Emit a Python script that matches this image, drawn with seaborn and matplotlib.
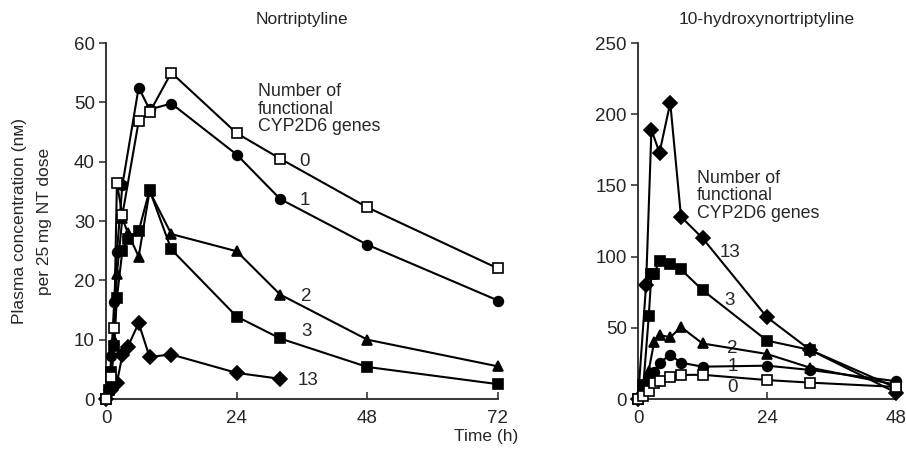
import numpy as np
import pandas as pd
import matplotlib
matplotlib.use("Agg")
import matplotlib.pyplot as plt
import seaborn as sns

# ---------------- data ----------------
# Nortriptyline (left panel), hours / nM
nt_t0 = [0, 1, 1.5, 2, 3, 6, 8, 12, 24, 32, 48, 72]
nt_v0 = [0, 3.7, 12, 36.4, 31, 46.8, 48.3, 55, 44.8, 40.5, 32.3, 22]
nt_t1 = [0, 0.5, 1, 1.5, 2, 3, 6, 8, 12, 24, 32, 48, 72]
nt_v1 = [0, 2, 7.3, 16.3, 24.7, 36, 52.5, 48.8, 49.8, 41.2, 33.7, 26, 16.6]
nt_t2 = [0, 0.5, 1, 1.5, 2, 3, 4, 6, 8, 12, 24, 32, 48, 72]
nt_v2 = [0, 1.5, 4, 10, 21, 30.5, 28, 24, 35, 27.8, 24.9, 17.6, 10, 5.5]
nt_t3 = [0, 0.5, 1, 1.5, 2, 3, 4, 6, 8, 12, 24, 32, 48, 72]
nt_v3 = [0, 1.5, 4.5, 9, 17, 25, 27, 28.3, 35.2, 25.2, 13.9, 10.2, 5.4, 2.5]
nt_t4 = [0, 1, 2, 3, 4, 6, 8, 12, 24, 32]
nt_v4 = [0, 1.5, 2.7, 7.4, 8.8, 12.8, 7.1, 7.5, 4.4, 3.4]

# 10-hydroxynortriptyline (right panel)
oh_t0 = [0, 1, 2, 3, 4, 6, 8, 12, 24, 32, 48]
oh_v0 = [0, 2, 5.5, 11, 12.5, 15.8, 16.9, 17, 13.3, 11.5, 8.5]
oh_t1 = [0, 1, 2, 3, 4, 6, 8, 12, 24, 32, 48]
oh_v1 = [0, 9.5, 14, 19, 25.5, 31, 25.5, 22.7, 23.4, 20.4, 12.5]
oh_t2 = [0, 1, 2, 3, 4, 6, 8, 12, 24, 32, 48]
oh_v2 = [0, 8, 20, 40, 45, 43.3, 50.5, 39, 31.6, 22, 10]
oh_t3 = [0, 1, 2, 2.5, 3, 4, 6, 8, 12, 24, 32, 48]
oh_v3 = [0, 10, 58, 88, 88, 97, 94.5, 91, 76.5, 41, 34.5, 8]
oh_t4 = [0, 1.5, 2.5, 4, 6, 8, 12, 24, 32, 48]
oh_v4 = [0, 80, 189, 173, 208, 128, 113, 57.4, 34.5, 4.5]

gene_labels = ["0", "1", "2", "3", "13"]
nt_xticks = [0, 24, 48, 72]
nt_yticks = [0, 10, 20, 30, 40, 50, 60]
oh_xticks = [0, 24, 48]
oh_yticks = [0, 50, 100, 150, 200, 250]

# label anchor positions (data coords) for gene-count annotations
nt_lab_x = [36.5, 36.5, 36.8, 36.8, 37.1]
nt_lab_y = [40.0, 33.4, 17.2, 11.3, 3.2]
oh_lab_x = [17.5, 17.7, 17.5, 17.1, 17.1]
oh_lab_y = [8.4, 22.5, 35.8, 69.5, 103.2]

# ---------------- style ----------------
sns.set_style("ticks")
plt.rcParams['font.family'] = ['Liberation Sans', 'DejaVu Sans']

markers = ["s", "o", "^", "s", "D"]
facecolors = ["white", "black", "black", "black", "black"]
msizes = [7.2, 7.0, 7.8, 6.8, 6.8]

fig = plt.figure(figsize=(9.06, 4.51), dpi=100)
W, H = 906, 451
ax1 = fig.add_axes([106 / W, 52 / H, 392 / W, 356 / H])
ax2 = fig.add_axes([638 / W, 52 / H, 258 / W, 356 / H])


def draw(ax, ts, vs):
    for i, (t, v) in enumerate(zip(ts, vs)):
        df = pd.DataFrame({"t": t, "v": v})
        sns.lineplot(data=df, x="t", y="v", ax=ax, sort=False, estimator=None,
                     color="black", linewidth=1.5, marker=markers[i],
                     markersize=msizes[i], markerfacecolor=facecolors[i],
                     markeredgecolor="black", markeredgewidth=1.2,
                     clip_on=False, zorder=3 + (4 - i) * 0.1)


draw(ax1, [nt_t0, nt_t1, nt_t2, nt_t3, nt_t4], [nt_v0, nt_v1, nt_v2, nt_v3, nt_v4])
draw(ax2, [oh_t0, oh_t1, oh_t2, oh_t3, oh_t4], [oh_v0, oh_v1, oh_v2, oh_v3, oh_v4])

for ax, xt, yt in [(ax1, nt_xticks, nt_yticks), (ax2, oh_xticks, oh_yticks)]:
    ax.set_xlim(xt[0], xt[-1])
    ax.set_ylim(yt[0], yt[-1])
    ax.set_xticks(xt)
    ax.set_yticks(yt)
    ax.set_xlabel("")
    ax.set_ylabel("")
    for s in ["top", "right"]:
        ax.spines[s].set_visible(False)
    for s in ["left", "bottom"]:
        ax.spines[s].set_linewidth(1.3)
    ax.tick_params(axis="x", direction="in", length=5, width=1.1, pad=8, labelsize=13.5)
    ax.tick_params(axis="y", direction="out", length=5, width=1.1, pad=3, labelsize=13.5)

ax1.set_title("Nortriptyline", fontsize=12.5, pad=14)
ax2.set_title("10-hydroxynortriptyline", fontsize=12.5, pad=14)

for x, y, s in zip(nt_lab_x, nt_lab_y, gene_labels):
    ax1.text(x, y, s, fontsize=13.5, ha="center", va="center")
for x, y, s in zip(oh_lab_x, oh_lab_y, gene_labels):
    ax2.text(x, y, s, fontsize=13.5, ha="center", va="center")

legend_txt = "Number of\nfunctional\nCYP2D6 genes"
fig.text(258 / W, 1 - 109 / H, legend_txt, fontsize=12.8, ha="left", va="center", linespacing=1.05)
fig.text(697 / W, 1 - 196 / H, legend_txt, fontsize=12.8, ha="left", va="center", linespacing=1.05)

fig.text(486 / W, 1 - 437 / H, "Time (h)", fontsize=12.5, ha="center", va="center")
fig.text(20 / W, 1 - 221 / H, "Plasma concentration (nᴍ)", fontsize=12.5,
         rotation=90, ha="center", va="center")
fig.text(45 / W, 1 - 221 / H, "per 25\u2009mg NT dose", fontsize=12.5,
         rotation=90, ha="center", va="center")

fig.savefig("out.png", dpi=100)
